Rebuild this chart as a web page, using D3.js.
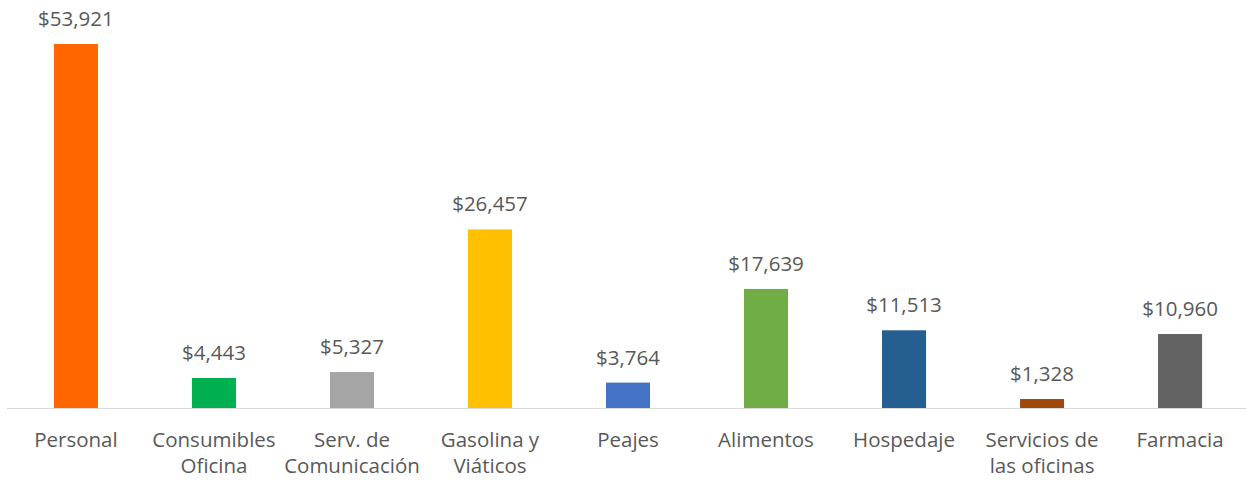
<!DOCTYPE html>
<html>
<head>
<meta charset="utf-8">
<script src="https://cdn.jsdelivr.net/npm/d3@7"></script>
<style>
  body { margin: 0; background: #fff; }
  text { font-family: "Open Sans", sans-serif; fill: #595959; }
</style>
</head>
<body>
<script>
(function(){

    //chart data
    var categories = ["Personal", "Consumibles Oficina", "Serv. de Comunicación", "Gasolina y Viáticos",
        "Peajes", "Alimentos", "Hospedaje", "Servicios de las oficinas", "Farmacia"];
    var labelLines = [["Personal"], ["Consumibles", "Oficina"], ["Serv. de", "Comunicación"], ["Gasolina y", "Viáticos"],
        ["Peajes"], ["Alimentos"], ["Hospedaje"], ["Servicios de", "las oficinas"], ["Farmacia"]];
    var values = [53921, 4443, 5327, 26457, 3764, 17639, 11513, 1328, 10960];
    var colors = ["#FF6600", "#00B050", "#A5A5A5", "#FFC000", "#4472C4", "#70AD47", "#255E91", "#9E480E", "#636363"];

    var width = 1246, height = 481;
    var baseY = 408;

    var svg = d3.select("body").append("svg")
        .attr("width", width)
        .attr("height", height);

    var x = d3.scaleBand()
        .domain(categories)
        .range([7, 7 + 138 * categories.length])
        .paddingInner(0.681)
        .paddingOuter(0.34);

    var y = d3.scaleLinear()
        .domain([0, 60000])
        .range([baseY, 3]);

    var fmt = d3.format("$,");

    //bars
    svg.selectAll(".bar")
        .data(values)
        .enter()
        .append("rect")
        .attr("class", "bar")
        .attr("x", function(d, i){ return x(categories[i]); })
        .attr("y", function(d){ return y(d); })
        .attr("width", x.bandwidth())
        .attr("height", function(d){ return baseY - y(d); })
        .style("fill", function(d, i){ return colors[i]; });

    //axis line
    svg.append("line")
        .attr("x1", 7).attr("x2", width)
        .attr("y1", baseY + 0.5).attr("y2", baseY + 0.5)
        .style("stroke", "#D9D9D9")
        .style("stroke-width", 1);

    //value labels
    svg.selectAll(".val")
        .data(values)
        .enter()
        .append("text")
        .attr("class", "val")
        .attr("x", function(d, i){ return x(categories[i]) + x.bandwidth() / 2; })
        .attr("y", function(d){ return y(d) - 18; })
        .attr("text-anchor", "middle")
        .style("font-size", "20.5px")
        .text(function(d){ return fmt(d); });

    //category labels
    var cat = svg.selectAll(".cat")
        .data(labelLines)
        .enter()
        .append("text")
        .attr("class", "cat")
        .attr("x", function(d, i){ return x(categories[i]) + x.bandwidth() / 2; })
        .attr("y", baseY + 39)
        .attr("text-anchor", "middle")
        .style("font-size", "20.5px");

    cat.selectAll("tspan")
        .data(function(d){ return d; })
        .enter()
        .append("tspan")
        .attr("x", function(){ return d3.select(this.parentNode).attr("x"); })
        .attr("dy", function(d, j){ return j === 0 ? 0 : 26; })
        .text(function(d){ return d; });

})();
</script>
</body>
</html>
